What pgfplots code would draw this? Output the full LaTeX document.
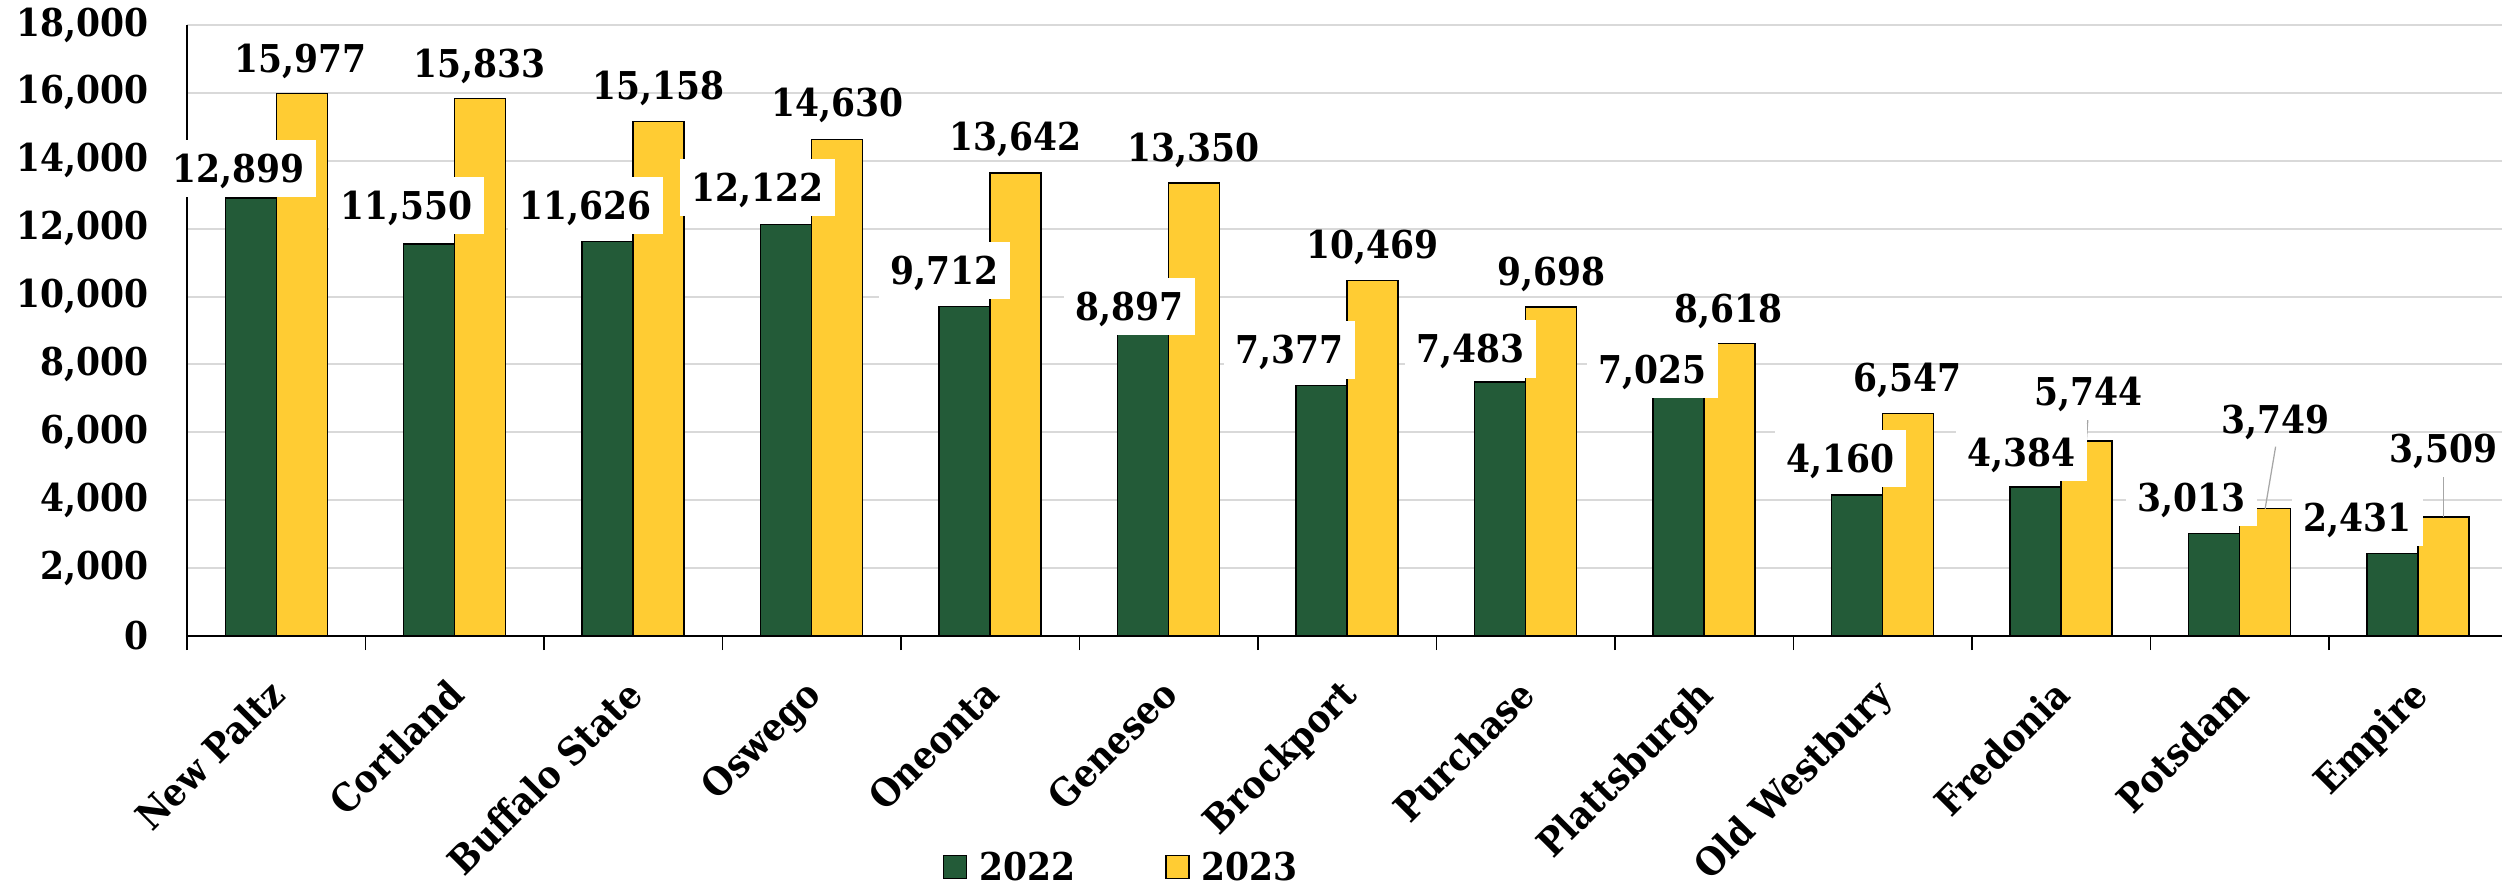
\documentclass[border=0pt]{standalone}
\usepackage{fontspec}
\setmainfont{DejaVu Serif}[FakeStretch=0.9]
\usepackage{pgfplots}
\pgfplotsset{compat=1.18}
\usepackage{pgfplotstable}

\definecolor{g22}{HTML}{235B38}
\definecolor{y23}{HTML}{FFCC33}
\definecolor{gridgray}{HTML}{D9D9D9}
\definecolor{leadgray}{HTML}{A6A6A6}

\newcommand{\lblfont}{\bfseries\fontsize{9.2bp}{11bp}\selectfont}

% value, label offset from category centre (px), label height above bar top (px)
\pgfplotstableread{
x  y      dx     dy
0  12899  -37.7  30.0
1  11550  -48.0  38.0
2  11626  -47.6  35.5
3  12122  -54.3  36.6
4  9712   -45.4  35.4
5  8897   -39.2  27.3
6  7377   -58.0  35.6
7  7483   -55.0  33.0
8  7025   -51.5  27.6
9  4160   -42.6  36.0
10 4384   -39.2  35.0
11 3013   -48.5  36.5
12 2431   -61.0  36.0
}\enrolA

\pgfplotstableread{
x  y      dx     dy
0  15977  24.3   35.0
1  15833  24.9   34.8
2  15158  25.4   35.5
3  14630  25.5   36.5
4  13642  25.5   36.3
5  13350  25.1   35.5
6  10469  25.5   35.7
7  9698   26.0   35.0
8  8618   24.8   35.0
9  6547   24.9   35.8
10 5744   27.0   49.0
11 3749   35.5   89.0
12 3509   25.1   68.0
}\enrolB

\pgfplotsset{
  sq legend/.style={legend image code/.code={
    \draw[##1, line width=0.35bp] (0bp,-2.76bp) rectangle (5.52bp,2.76bp);}},
  vlabels/.style={
    forget plot, only marks, mark=none,
    point meta=explicit,
    visualization depends on={0.24*\thisrow{dx}\as\dx},
    visualization depends on={0.24*\thisrow{dy}\as\dy},
    nodes near coords={\pgfmathprintnumber[fixed,precision=0,1000 sep={,}]{\pgfplotspointmeta}},
    every node near coord/.style={
      anchor=center, xshift=\dx bp, yshift=\dy bp,
      fill=#1, text=black, font=\lblfont,
      text height=6.7bp, text depth=0bp,
      inner xsep=2.76bp, inner ysep=3.5bp},
  },
}

\begin{document}
\begin{tikzpicture}
\begin{axis}[
    width=555.6bp, height=146.64bp, scale only axis,
    xmin=-0.5, xmax=12.47,
    ymin=0, ymax=18000,
    clip=false,
    axis x line*=bottom, axis y line*=left,
    x axis line style={black, line width=0.6bp, -},
    y axis line style={black, line width=0.35bp, -},
    /pgf/number format/assume math mode=true,
    tick align=outside,
    xtick={0,...,12},
    xticklabels={New Paltz,Cortland,Buffalo State,Oswego,Oneonta,Geneseo,Brockport,Purchase,Plattsburgh,Old Westbury,Fredonia,Potsdam,Empire},
    major x tick style={draw=none},
    minor xtick={-0.5,0.5,...,11.5},
    minor x tick style={black, line width=0.35bp},
    minor tick length=3.4bp,
    xticklabel style={font=\lblfont, inner sep=0pt,
      xshift=-2.2bp, yshift=-5.3bp, rotate=45, anchor=north east},
    ytick={0,2000,...,18000},
    ytick style={draw=none},
    scaled y ticks=false,
    yticklabel style={font=\lblfont, anchor=east, inner sep=0pt, xshift=-4.7bp,
      /pgf/number format/.cd, fixed, precision=0, 1000 sep={,}},
    ymajorgrids,
    major grid style={gridgray, line width=0.5bp},
    legend style={at={(0.4058,-0.378)}, anchor=center, draw=none, fill=none,
      font=\lblfont, legend columns=2,
      nodes={inner xsep=2.9bp, inner ysep=0pt, text height=6.7bp, text depth=0bp},
      /tikz/every even column/.append style={column sep=18.7bp}},
  ]

  \addplot[ybar, bar width=12.24bp, bar shift=-6.12bp, fill=g22, draw=black,
    line width=0.35bp, sq legend] table[x=x, y=y] {\enrolA};
  \addlegendentry{2022}
  \addplot[ybar, bar width=12.24bp, bar shift=6.12bp, fill=y23, draw=black,
    line width=0.35bp, sq legend] table[x=x, y=y] {\enrolB};
  \addlegendentry{2023}

  % 2022 labels sit on white boxes, 2023 labels are bare
  \addplot[vlabels=white] table[x=x, y=y, meta=y] {\enrolA};
  \addplot[vlabels=none] table[x=x, y=y, meta=y] {\enrolB};

  % leader lines of the moved 2023 labels
  \draw[leadgray, line width=0.3bp] ([xshift=6.05bp]axis cs:10,5744) -- ([xshift=6.4bp, yshift=5bp]axis cs:10,5744);
  \draw[leadgray, line width=0.3bp] ([xshift=6.12bp]axis cs:11,3749) -- ([xshift=8.64bp, yshift=14.9bp]axis cs:11,3749);
  \draw[leadgray, line width=0.3bp] ([xshift=6.02bp]axis cs:12,3509) -- ([xshift=6.02bp, yshift=9.6bp]axis cs:12,3509);
\end{axis}
\pgfresetboundingbox
\path[use as bounding box] (-44.88bp,-59.76bp) rectangle (555.6bp,152.64bp);
\end{tikzpicture}
\end{document}
